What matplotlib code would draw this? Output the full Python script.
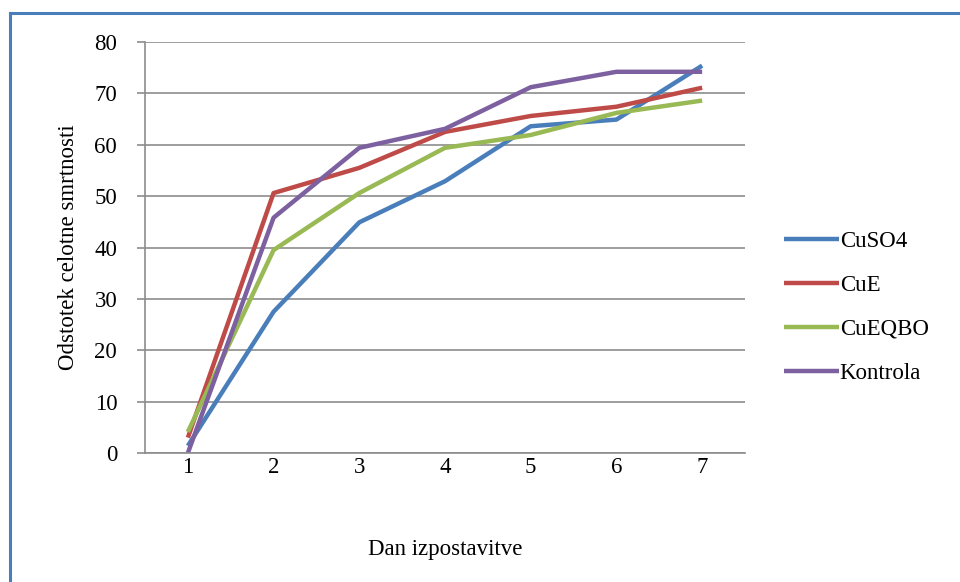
import matplotlib.pyplot as plt
from matplotlib.lines import Line2D

plt.rcParams['font.family'] = ['Liberation Serif', 'DejaVu Serif']

dni = [1, 2, 3, 4, 5, 6, 7]
cuso4 = [1.4, 27.5, 44.9, 52.9, 63.6, 64.9, 75.4]
cue = [3.0, 50.6, 55.5, 62.5, 65.6, 67.4, 71.1]
cueqbo = [4.1, 39.5, 50.6, 59.4, 61.9, 66.2, 68.6]
kontrola = [0.0, 45.8, 59.4, 63.1, 71.2, 74.2, 74.2]

serije = [('CuSO4', cuso4, '#4A7EBB'),
          ('CuE', cue, '#BE4B48'),
          ('CuEQBO', cueqbo, '#98B954'),
          ('Kontrola', kontrola, '#7D60A0')]

fig = plt.figure(figsize=(9.6, 5.82), dpi=100)
ax = fig.add_axes([145 / 960, 1 - 453 / 582, 600 / 960, 411 / 582])

for ime, vrednosti, barva in serije:
    ax.plot(dni, vrednosti, color=barva, lw=3.2, label=ime, solid_capstyle='butt')

ax.set_xlim(0.5, 7.5)
ax.set_ylim(0, 80)
ax.set_yticks(range(0, 81, 10))
ax.set_xticks(dni)
ax.grid(axis='y', color='#8C8C8C', lw=1.2)
ax.set_axisbelow(True)
for s in ['top', 'right']:
    ax.spines[s].set_visible(False)
for s in ['left', 'bottom']:
    ax.spines[s].set_color('#8C8C8C')
    ax.spines[s].set_linewidth(1.2)
ax.tick_params(axis='y', length=6, color='#8C8C8C', width=1.2, labelsize=16.5, pad=14)
ax.tick_params(axis='x', length=0, labelsize=16.5, pad=3)

ax.set_ylabel('Odstotek celotne smrtnosti', fontsize=16.5, labelpad=11)
ax.set_xlabel('Dan izpostavitve', fontsize=16.5, labelpad=44)

ax.legend(loc='center left', bbox_to_anchor=(1.03, 0.355), frameon=False,
          fontsize=16.5, handlelength=2.4, handletextpad=0.05, labelspacing=1.0)

# modri okvir zgoraj in levo
fig.add_artist(Line2D([10 / 960, 1], [1 - 13 / 582] * 2, color='#4A7EBB', lw=2.2))
fig.add_artist(Line2D([10 / 960] * 2, [0, 1 - 13 / 582], color='#4A7EBB', lw=2.2))

plt.savefig('out.png')
